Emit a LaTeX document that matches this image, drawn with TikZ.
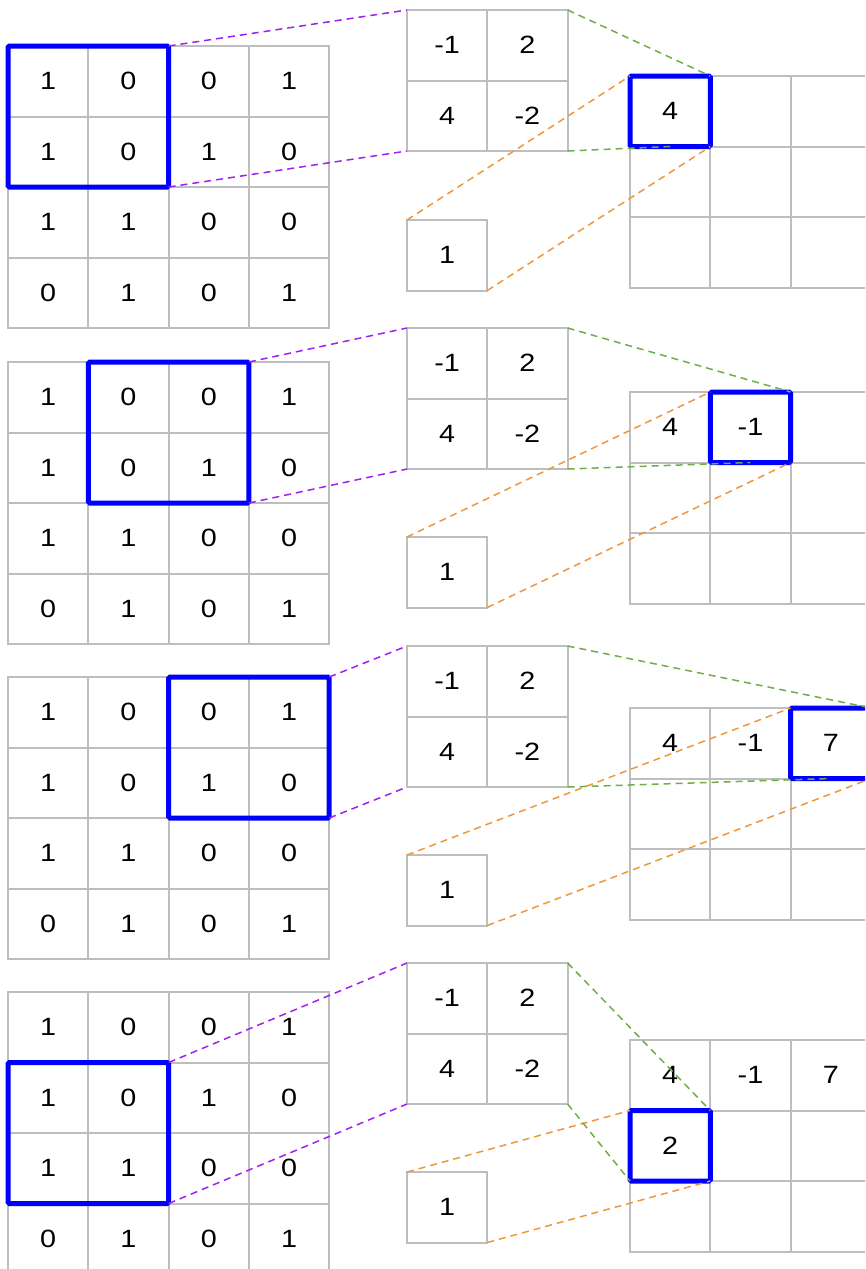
\documentclass[tikz,border=0pt]{standalone}
\usepackage{fontspec}
\setmainfont{Liberation Sans}
\usetikzlibrary{positioning,fit}
\definecolor{gridgray}{RGB}{190,190,190}
\definecolor{violetline}{RGB}{160,32,240}
\definecolor{greenline}{RGB}{112,173,71}
\definecolor{orangeline}{RGB}{240,150,60}
\newcommand{\wdig}[1]{\scalebox{1.15}[1]{#1}}

\begin{document}
\begin{tikzpicture}[x=1pt,y=-1pt,
every node/.style={font=\fontsize{25}{25}\selectfont},
cell/.style={rectangle,draw=gridgray,line width=2pt,minimum width=80.3pt,minimum height=70.5pt,inner sep=0pt,outer sep=0pt},
hilite/.style={rectangle,draw=blue,line width=5pt,rounded corners=1.5pt,inner sep=0pt,outer sep=0pt},
tokernel/.style={draw=violetline,line width=1.5pt,dash pattern=on 7pt off 5pt},
tooutput/.style={draw=greenline,line width=1.5pt,dash pattern=on 7pt off 5pt},
frombias/.style={draw=orangeline,line width=1.5pt,dash pattern=on 7pt off 5pt}]
\useasboundingbox (0,0) rectangle (865,1269);
\clip (0,0) rectangle (865,1269);
% four steps: input, kernel, bias, output
\foreach \p/\ti/\tk/\tb/\tout in {1/46/10/220/76,2/362/328/537/392,3/677/646/855/708,4/992/963/1172/1040}{
  \foreach \r/\row in {1/{1,0,0,1},2/{1,0,1,0},3/{1,1,0,0},4/{0,1,0,1}}
    \foreach \v [count=\c] in \row
      \node[cell] (in\p-\r-\c) at (80.3*\c-32.15,\ti+70.5*\r-35.25) {\wdig{\v}};
  \foreach \r/\row in {1/{-1,2},2/{4,-2}}
    \foreach \v [count=\c] in \row
      \node[cell] (k\p-\r-\c) at (407+80.3*\c-40.15,\tk+70.5*\r-35.25) {\wdig{\v}};
  \node[cell] (b\p) at (447.15,\tb+35.25) {\wdig{1}};
  \foreach \r in {1,2,3}
    \foreach \c in {1,2,3}
      \node[cell] (o\p-\r-\c) at (630+80.3*\c-40.15,\tout+70.5*\r-35.25) {};
}
% results so far
\foreach \p/\r/\c/\v in {1/1/1/4,2/1/1/4,2/1/2/-1,3/1/1/4,3/1/2/-1,3/1/3/7,4/1/1/4,4/1/2/-1,4/1/3/7,4/2/1/2}
  \node (val\p-\r-\c) at (o\p-\r-\c) {\wdig{\v}};
% windows
\foreach \p/\a/\b/\o in {1/1-1/2-2/1-1,2/1-2/2-3/1-2,3/1-3/2-4/1-3,4/2-1/3-2/2-1}{
  \node[hilite,fit=(in\p-\a)(in\p-\b)] (win\p) {};
  \node[hilite,fit=(o\p-\o)] (wout\p) {};
}
\foreach \p in {1,...,4}{
  \draw[tokernel] (win\p.north east)--(k\p-1-1.north west);
  \draw[tokernel] (win\p.south east)--(k\p-2-1.south west);
  \draw[tooutput] (k\p-1-2.north east)--(wout\p.north east);
  \draw[frombias] (b\p.north west)--(wout\p.north west);
  \draw[frombias] (b\p.south east)--(wout\p.south east);
}
\foreach \p in {1,2,3}
  \draw[tooutput] (k\p-2-2.south east)--(wout\p.south);
\draw[tooutput] (k4-2-2.south east)--(wout4.south west);
\end{tikzpicture}
\end{document}
